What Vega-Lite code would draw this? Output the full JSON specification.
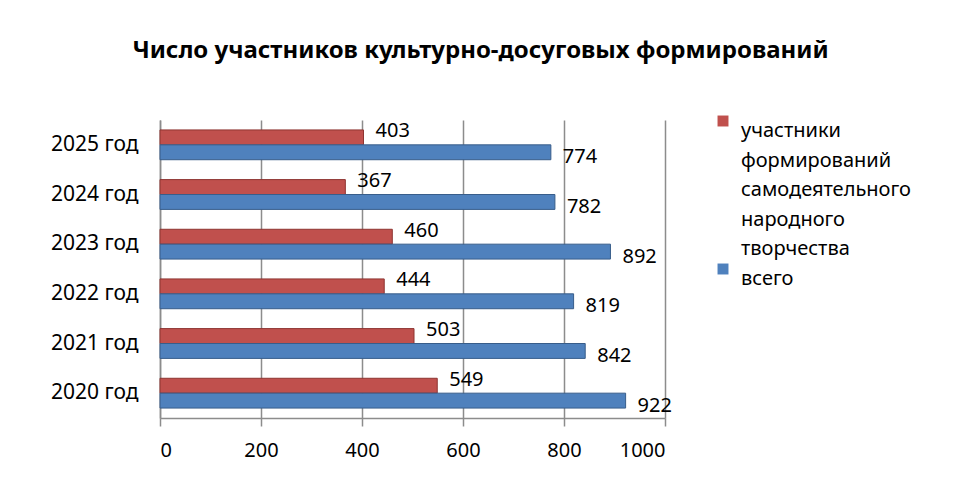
{
  "$schema": "https://vega.github.io/schema/vega-lite/v6.json",
  "width": 505,
  "height": 298,
  "autosize": {"type": "none"},
  "padding": {"left": 160, "top": 120, "right": 295, "bottom": 62},
  "background": "white",
  "config": {
    "font": "Noto Sans",
    "view": {"stroke": null}
  },
  "title": {
    "text": "Число участников культурно-досуговых формирований",
    "fontSize": 24,
    "fontWeight": "bold",
    "color": "black",
    "anchor": "middle",
    "frame": "group",
    "dx": 68,
    "offset": 48
  },
  "data": {
    "values": [
      {"year": "2025 год", "series": "участники формирований самодеятельного народного творчества", "value": 403},
      {"year": "2025 год", "series": "всего", "value": 774},
      {"year": "2024 год", "series": "участники формирований самодеятельного народного творчества", "value": 367},
      {"year": "2024 год", "series": "всего", "value": 782},
      {"year": "2023 год", "series": "участники формирований самодеятельного народного творчества", "value": 460},
      {"year": "2023 год", "series": "всего", "value": 892},
      {"year": "2022 год", "series": "участники формирований самодеятельного народного творчества", "value": 444},
      {"year": "2022 год", "series": "всего", "value": 819},
      {"year": "2021 год", "series": "участники формирований самодеятельного народного творчества", "value": 503},
      {"year": "2021 год", "series": "всего", "value": 842},
      {"year": "2020 год", "series": "участники формирований самодеятельного народного творчества", "value": 549},
      {"year": "2020 год", "series": "всего", "value": 922}
    ]
  },
  "encoding": {
    "y": {
      "field": "year",
      "type": "nominal",
      "sort": ["2025 год", "2024 год", "2023 год", "2022 год", "2021 год", "2020 год"],
      "scale": {"paddingInner": 0.4, "paddingOuter": 0.2},
      "axis": {
        "title": null,
        "labelFontSize": 21,
        "labelColor": "black",
        "labelPadding": 22,
        "ticks": false,
        "domainColor": "#8c8c8c",
        "domainWidth": 1.5
      }
    },
    "yOffset": {
      "field": "series",
      "type": "nominal",
      "sort": ["участники формирований самодеятельного народного творчества", "всего"]
    },
    "x": {
      "field": "value",
      "type": "quantitative",
      "scale": {"domain": [0, 1000]},
      "axis": {
        "title": null,
        "values": [0, 200, 400, 600, 800, 1000],
        "format": "d",
        "labelFontSize": 20,
        "labelColor": "black",
        "labelPadding": 14,
        "grid": true,
        "gridColor": "#8c8c8c",
        "gridWidth": 1.5,
        "domainColor": "#8c8c8c",
        "domainWidth": 1.5,
        "tickColor": "#8c8c8c",
        "tickSize": 8,
        "tickWidth": 1.5
      }
    }
  },
  "layer": [
    {
      "mark": {"type": "bar", "strokeWidth": 1},
      "encoding": {
        "color": {
          "field": "series",
          "type": "nominal",
          "sort": ["участники формирований самодеятельного народного творчества", "всего"],
          "scale": {"range": ["#C0504D", "#4F81BD"]},
          "legend": {
            "title": null,
            "orient": "none",
            "legendX": 553,
            "legendY": -9,
            "symbolType": "square",
            "symbolSize": 120,
            "symbolStrokeWidth": 0,
            "labelFontSize": 20,
            "labelColor": "black",
            "labelLimit": 300,
            "labelBaseline": "top",
            "labelOffset": 8,
            "rowPadding": 0,
            "labelExpr": "datum.label == 'всего' ? 'всего' : ['участники', 'формирований', 'самодеятельного', 'народного', 'творчества']",
            "encode": {
              "labels": {"update": {"lineHeight": {"value": 29.5}}}
            }
          }
        },
        "stroke": {
          "field": "series",
          "type": "nominal",
          "sort": ["участники формирований самодеятельного народного творчества", "всего"],
          "scale": {"range": ["#8e3431", "#385d8a"]},
          "legend": null
        }
      }
    },
    {
      "transform": [{"filter": "datum.series != 'всего'"}],
      "mark": {"type": "text", "align": "left", "baseline": "middle", "dx": 12, "dy": -6, "fontSize": 20, "color": "black"},
      "encoding": {"text": {"field": "value", "type": "quantitative"}}
    },
    {
      "transform": [{"filter": "datum.series == 'всего'"}],
      "mark": {"type": "text", "align": "left", "baseline": "middle", "dx": 12, "dy": 5, "fontSize": 20, "color": "black"},
      "encoding": {"text": {"field": "value", "type": "quantitative"}}
    }
  ]
}
